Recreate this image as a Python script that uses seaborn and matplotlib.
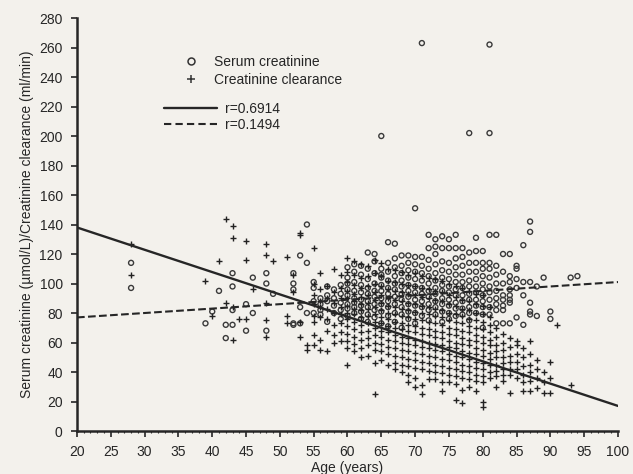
import pandas as pd
import seaborn as sns
import matplotlib.pyplot as plt
from matplotlib.lines import Line2D

# serum creatinine (open circles), values per age column
serum_age = [28, 39, 40, 41, 42, 43, 45, 46, 48, 49, 52, 53, 54, 55, 56, 57, 58, 59,
             60, 61, 62, 63, 64, 65, 66, 67, 68, 69, 70, 71, 72, 73, 74, 75, 76, 77,
             78, 79, 80, 81, 82, 83, 84, 85, 86, 87, 88, 89, 90, 93, 94]
serum_vals = [
    [114, 97], [73], [81], [95], [72, 63], [107, 98, 82, 72], [86, 68], [104, 80],
    [107, 100, 68], [93], [107, 100, 96, 73, 72], [119, 84, 73], [114, 140, 80],
    [101, 97, 80, 88], [90, 82, 79, 86], [92, 88, 74, 98], [90, 85, 96, 80],
    [99, 87, 82, 93, 76],
    [111, 104, 96, 92, 86, 83, 78, 100],
    [108, 101, 95, 90, 87, 84, 80, 113],
    [112, 106, 99, 94, 89, 85, 81, 76],
    [121, 110, 103, 97, 93, 88, 84, 79, 74],
    [120, 115, 107, 100, 95, 91, 86, 82, 77],
    [200, 110, 104, 99, 95, 90, 86, 81, 73, 106],
    [128, 114, 108, 102, 97, 93, 88, 84, 78, 71],
    [127, 117, 111, 105, 100, 96, 91, 86, 80, 74],
    [119, 112, 107, 102, 98, 93, 89, 84, 79, 70],
    [119, 114, 109, 104, 99, 95, 91, 86, 81, 76],
    [151, 118, 113, 108, 103, 98, 94, 89, 85, 80, 73],
    [263, 118, 112, 107, 102, 97, 93, 88, 84, 78],
    [124, 133, 116, 110, 105, 100, 95, 91, 86, 82, 75],
    [125, 130, 120, 113, 107, 102, 97, 93, 88, 84, 79],
    [132, 124, 115, 109, 104, 99, 95, 90, 86, 81, 74],
    [130, 124, 114, 108, 103, 98, 94, 89, 85, 80, 76],
    [133, 124, 117, 111, 106, 101, 96, 92, 87, 83, 78],
    [124, 118, 112, 106, 101, 97, 92, 88, 83, 79],
    [202, 121, 114, 108, 102, 98, 93, 89, 84, 80, 75],
    [131, 122, 114, 108, 103, 98, 94, 89, 85, 80],
    [122, 114, 110, 105, 100, 96, 92, 88, 84, 79, 70],
    [262, 202, 133, 114, 110, 104, 98, 94, 89, 84, 79],
    [133, 112, 106, 100, 95, 90, 86, 82, 73],
    [120, 108, 100, 92, 89, 85, 82, 73],
    [120, 105, 101, 96, 92, 89, 87, 73],
    [112, 110, 103, 97, 77],
    [126, 92, 101, 72],
    [142, 135, 101, 87, 81, 79],
    [78, 98], [104], [81, 76], [104], [105],
]

# creatinine clearance (plus signs), values per age column
clear_age = [28, 39, 40, 41, 42, 43, 44, 45, 46, 48, 49, 51, 52, 53, 54, 55, 56, 57,
             58, 59, 60, 61, 62, 63, 64, 65, 66, 67, 68, 69, 70, 71, 72, 73, 74, 75,
             76, 77, 78, 79, 80, 81, 82, 83, 84, 85, 86, 87, 88, 89, 90, 91, 93]
clear_vals = [
    [127, 106], [102], [78], [115], [87, 144], [139, 131, 84, 62], [76],
    [129, 116, 76], [96], [127, 119, 87, 75, 64], [115], [118, 78, 73], [106, 94],
    [134, 133, 74, 64], [58, 55],
    [124, 100, 92, 86, 78, 74, 65, 58],
    [107, 96, 88, 84, 77, 62, 55],
    [98, 90, 83, 76, 68, 54],
    [110, 94, 87, 80, 72, 65, 60],
    [106, 97, 90, 84, 79, 73, 67, 61],
    [117, 108, 101, 95, 90, 85, 80, 76, 71, 66, 61, 56, 45],
    [115, 106, 99, 93, 88, 83, 79, 74, 69, 64, 59, 54],
    [113, 104, 97, 91, 86, 82, 77, 72, 67, 62, 56, 50],
    [112, 105, 98, 92, 87, 83, 78, 73, 68, 63, 58, 51],
    [116, 107, 100, 94, 89, 84, 79, 74, 70, 65, 60, 55, 46, 25],
    [114, 105, 98, 92, 87, 82, 77, 73, 68, 64, 59, 54, 48],
    [110, 102, 96, 90, 85, 80, 76, 71, 67, 62, 57, 52, 45],
    [109, 101, 95, 89, 84, 79, 74, 70, 65, 61, 56, 51, 46, 42],
    [108, 100, 94, 88, 83, 78, 73, 69, 64, 60, 55, 50, 45, 40],
    [106, 99, 93, 87, 82, 77, 72, 68, 63, 59, 54, 49, 44, 38, 33],
    [107, 98, 92, 86, 81, 76, 71, 67, 62, 58, 53, 48, 43, 36, 30],
    [105, 97, 91, 85, 80, 75, 70, 66, 61, 57, 52, 47, 42, 31, 25],
    [104, 96, 90, 84, 79, 74, 69, 65, 60, 56, 51, 46, 41, 35],
    [103, 95, 89, 83, 78, 73, 68, 64, 59, 55, 50, 45, 40, 35],
    [102, 94, 88, 82, 77, 72, 67, 63, 58, 54, 49, 44, 39, 33, 27],
    [100, 92, 86, 80, 75, 70, 66, 61, 57, 52, 48, 43, 38, 33],
    [98, 91, 85, 79, 74, 69, 65, 60, 56, 51, 47, 42, 37, 32, 21],
    [97, 89, 83, 78, 73, 68, 63, 59, 54, 50, 45, 41, 36, 28, 19],
    [95, 88, 82, 76, 71, 67, 62, 58, 53, 49, 44, 40, 35, 30],
    [93, 86, 80, 75, 70, 65, 61, 56, 52, 47, 43, 38, 34, 27],
    [92, 85, 79, 74, 69, 64, 60, 55, 51, 46, 42, 37, 33, 20, 16],
    [84, 77, 72, 67, 62, 58, 53, 49, 45, 40, 36],
    [70, 64, 58, 54, 50, 45, 41, 37, 30],
    [66, 60, 55, 50, 46, 42, 38, 34],
    [63, 57, 51, 47, 42, 38, 26],
    [61, 58, 52, 47, 42, 36],
    [56, 50, 44, 38, 33, 27],
    [61, 52, 45, 40, 34, 27],
    [48, 42, 36, 29],
    [40, 33, 26],
    [47, 36, 26],
    [72],
    [31],
]

# regression lines (ends at age 20 and 100)
fit_age = [20, 100]
clear_fit = [138, 17]
serum_fit = [77, 101]

serum = pd.DataFrame([(a, v) for a, vs in zip(serum_age, serum_vals) for v in vs],
                     columns=['age', 'value'])
clear = pd.DataFrame([(a, v) for a, vs in zip(clear_age, clear_vals) for v in vs],
                     columns=['age', 'value'])
fits = pd.DataFrame({'age': fit_age, 'clear': clear_fit, 'serum': serum_fit})

sns.set_style('ticks')
plt.rcParams['font.family'] = ['Liberation Sans', 'DejaVu Sans']
paper = '#f3f1ec'
ink = '#262626'

fig = plt.figure(figsize=(6.33, 4.74), dpi=100, facecolor=paper)
ax = fig.add_axes([0.1216, 0.0907, 0.8547, 0.8713], facecolor=paper)

sns.scatterplot(ax=ax, data=serum, x='age', y='value', marker='o', s=13,
                facecolor='none', edgecolor='#3a3a3a', linewidth=1.0)
sns.scatterplot(ax=ax, data=clear, x='age', y='value', marker='+', s=18,
                color='#222222', linewidth=1.0)
sns.lineplot(ax=ax, data=fits, x='age', y='clear', color=ink, lw=1.7)
sns.lineplot(ax=ax, data=fits, x='age', y='serum', color=ink, lw=1.5,
             dashes=(4, 2.5), linestyle='--')

ax.set_xlim(20, 100)
ax.set_ylim(0, 280)
ax.set_xticks(range(20, 101, 5))
ax.set_yticks(range(0, 281, 20))
ax.set_xticks(range(20, 101, 1), minor=True)
ax.tick_params(axis='both', which='major', length=4.3, width=1.2, labelsize=10,
               colors=ink, pad=6)
ax.tick_params(axis='x', which='minor', length=1.5, width=0.8, colors=ink)
sns.despine(ax=ax)
for s in ['left', 'bottom']:
    ax.spines[s].set_linewidth(1.8)
    ax.spines[s].set_color(ink)

ax.set_xlabel('Age (years)', fontsize=10, color=ink, labelpad=1)
ax.set_ylabel('Serum creatinine (\u00b5mol/L)/Creatinine clearance (ml/min)',
              fontsize=10, color=ink, labelpad=4)

mark_handles = [
    Line2D([], [], marker='o', ls='none', mfc='none', mec='#333333', ms=5, mew=1.1),
    Line2D([], [], marker='+', ls='none', color='#333333', ms=6, mew=1.1),
]
leg1 = ax.legend(mark_handles, ['Serum creatinine', 'Creatinine clearance'],
                 loc='upper left', bbox_to_anchor=(0.177, 0.94), frameon=False,
                 fontsize=10, handlelength=0.9, handletextpad=1.2,
                 labelspacing=0.25, labelcolor=ink)
ax.add_artist(leg1)
line_handles = [
    Line2D([], [], color=ink, lw=1.7),
    Line2D([], [], color=ink, lw=1.5, ls=(0, (3.5, 2))),
]
ax.legend(line_handles, ['r=0.6914', 'r=0.1494'], loc='upper left',
          bbox_to_anchor=(0.138, 0.828), frameon=False, fontsize=10,
          handlelength=3.8, handletextpad=0.6, labelspacing=0.2,
          labelcolor=ink)

fig.savefig('out.png', dpi=100, facecolor=paper)
